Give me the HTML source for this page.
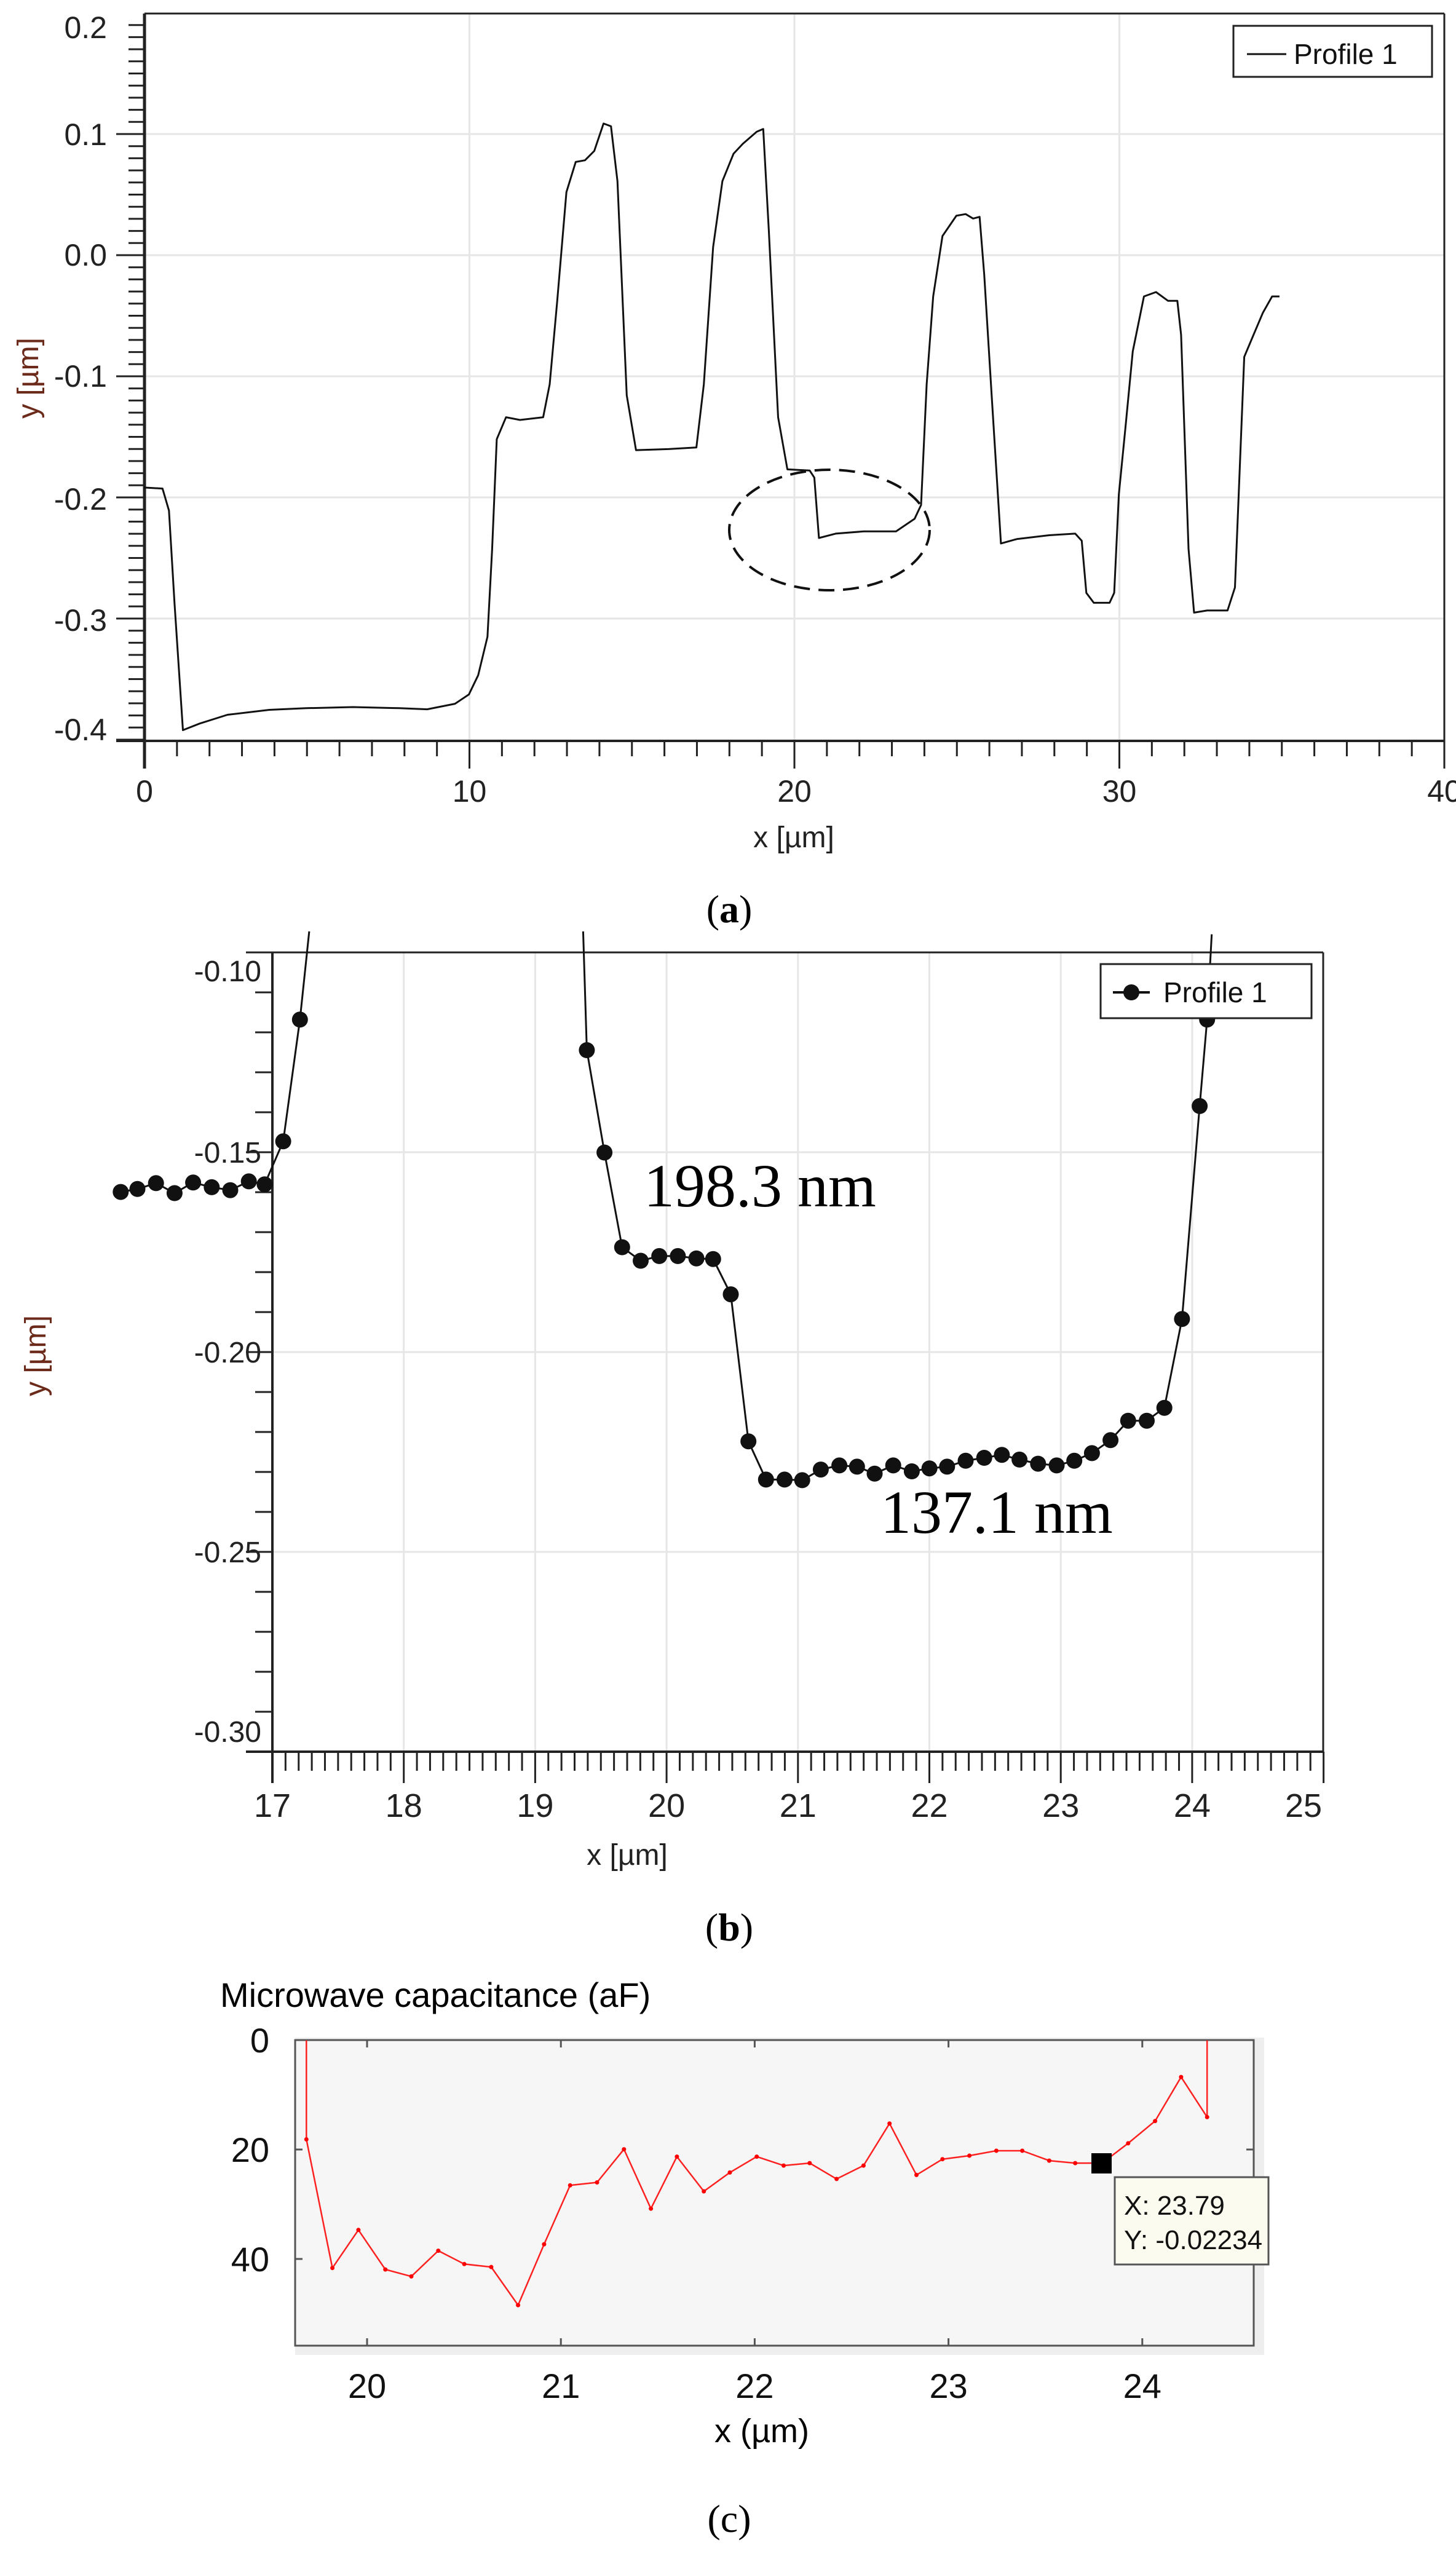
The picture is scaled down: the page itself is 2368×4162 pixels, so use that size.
<!DOCTYPE html>
<html><head><meta charset="utf-8">
<style>
html,body{margin:0;padding:0;background:#fff;}
svg{display:block;}
text{font-family:"Liberation Sans",sans-serif;}
.serif{font-family:"Liberation Serif",serif;}
</style></head>
<body>
<svg id="s" width="2368" height="4162" viewBox="0 0 2368 4162" xmlns="http://www.w3.org/2000/svg">
<rect width="2368" height="4162" fill="#fff"/>
<g id="g"></g>
<!-- static texts -->
<text x="1186" y="1500" font-size="64" text-anchor="middle" class="serif">(<tspan font-weight="bold">a</tspan>)</text>
<text x="1291" y="1378" font-size="48" text-anchor="middle" fill="#222">x [µm]</text>
<text transform="translate(62,615) rotate(-90)" font-size="48" text-anchor="middle" fill="#6b2a1a">y [µm]</text>
<text x="1020" y="3033" font-size="48" text-anchor="middle" fill="#222">x [µm]</text>
<text transform="translate(74,2205) rotate(-90)" font-size="48" text-anchor="middle" fill="#6b2a1a">y [µm]</text>
<text x="1186" y="3156" font-size="64" text-anchor="middle" class="serif">(<tspan font-weight="bold">b</tspan>)</text>
<text x="1047" y="1962" font-size="100" class="serif">198.3 nm</text>
<text x="1432" y="2493" font-size="100" class="serif">137.1 nm</text>
<text x="358" y="3264" font-size="56">Microwave capacitance  (aF)</text>
<text x="1239" y="3972" font-size="54" text-anchor="middle">x  (µm)</text>
<text x="1186" y="4118" font-size="64" text-anchor="middle" class="serif">(c)</text>
</svg>
<script>
var g=document.getElementById('g');var h='';
function L(x1,y1,x2,y2,c,w){h+='<line x1="'+x1+'" y1="'+y1+'" x2="'+x2+'" y2="'+y2+'" stroke="'+c+'" stroke-width="'+w+'"/>';}
function T(x,y,s,fs,anc,col){h+='<text x="'+x+'" y="'+y+'" font-size="'+fs+'" text-anchor="'+anc+'" fill="'+(col||'#111')+'">'+s+'</text>';}
function P(pts,c,w){h+='<polyline fill="none" stroke="'+c+'" stroke-width="'+w+'" stroke-linejoin="round" points="'+pts.map(function(p){return p[0].toFixed(1)+','+p[1].toFixed(1)}).join(' ')+'"/>';}
// ===== Panel A =====
var ax0=235,ax1=2349,ay0=22,ay1=1205;
function aY(v){return 415-v*1970;}
function aX(v){return 235+v*52.85;}
[0.1,0,-0.1,-0.2,-0.3].forEach(function(v){L(ax0,aY(v),ax1,aY(v),'#e6e6e6',3);});
[10,20,30].forEach(function(v){L(aX(v),ay0,aX(v),ay1,'#e6e6e6',3);});
L(ax0,ay0,ax1,ay0,'#222',3);L(ax1,ay0,ax1,ay1,'#222',3);
L(189,ay1,ax1,ay1,'#222',4);L(ax0,ay0,ax0,1250,'#222',5);
for(var i=-40;i<=20;i++){var y=aY(i/100);if(y<ay0||y>ay1)continue;if(i%10==0){L(189,y,ax0,y,'#222',3);}else L(209,y,ax0,y,'#222',3);}
for(var i=1;i<=40;i++){var x=aX(i);if(i%10==0)L(x,ay1,x,1250,'#222',3);else L(x,ay1,x,1230,'#222',3);}
[0.2,0.1,0,-0.1,-0.2,-0.3,-0.4].forEach(function(v,k){var lab=v.toFixed(1);var yy=[45,219,415,612,812,1009,1187][k];T(174,yy+17,lab,50,'end','#222');});
[0,10,20,30,40].forEach(function(v){T(aX(v),1304,v,50,'middle','#222');});
var A=[[155,888],[175,890],[182,930],[188,1100],[197,1330],[215,1318],[245,1302],[290,1293],[330,1290],[380,1288],[430,1290],[460,1292],[490,1282],[505,1265],[515,1230],[525,1160],[530,1000],[535,800],[545,760],[560,765],[585,760],[592,700],[600,550],[610,350],[620,295],[630,292],[640,275],[650,225],[658,230],[665,330],[675,720],[685,820],[720,818],[750,815],[758,700],[768,450],[778,330],[790,280],[800,262],[815,240],[822,235],[828,420],[838,760],[848,855],[872,857],[877,870],[882,980],[900,972],[930,968],[965,968],[985,945],[992,920],[998,700],[1005,540],[1015,430],[1030,393],[1040,390],[1048,398],[1055,395],[1060,500],[1068,720],[1078,990],[1095,982],[1130,975],[1158,972],[1165,985],[1170,1080],[1178,1098],[1195,1098],[1200,1080],[1205,900],[1212,780],[1220,640],[1232,540],[1245,532],[1258,548],[1268,548],[1272,610],[1280,1000],[1286,1116],[1300,1112],[1322,1112],[1330,1070],[1340,650],[1350,610],[1360,570],[1370,540],[1378,540]];
P(A.map(function(p){return [p[0]/0.6622,p[1]/1.12];}),'#111',3);
h+='<ellipse cx="1349" cy="862" rx="163" ry="98" fill="none" stroke="#111" stroke-width="4" stroke-dasharray="26,14"/>';
h+='<rect x="2006" y="42" width="323" height="83" fill="#fff" stroke="#222" stroke-width="3"/>';
L(2028,88,2092,88,'#111',3);T(2104,104,'Profile 1',46,'start','#111');
// ===== Panel B =====
var bx0=443,bx1=2152,by0=1549,by1=2849;
function bX(v){return 443+(v-17)*213.7;}
function bY(v){return 1549+(-0.10-v)*6500;}
[-0.15,-0.2,-0.25].forEach(function(v){L(bx0,bY(v),bx1,bY(v),'#e6e6e6',3);});
for(var i=18;i<=24;i++)L(bX(i),by0,bX(i),by1,'#e6e6e6',3);
L(bx0,by0,bx1,by0,'#222',3);L(bx1,by0,bx1,by1,'#222',3);
L(400,by1,bx1,by1,'#222',4);L(bx0,by0,bx0,2900,'#222',4);
for(var i=10;i<=30;i++){var y=bY(-i/100);if(i%5==0)L(400,y,bx0,y,'#222',3);else L(415,y,bx0,y,'#222',3);}
for(var i=1;i<=80;i++){var x=bX(17+i/10);if(i%10==0)L(x,by1,x,2900,'#222',3);else L(x,by1,x,2880,'#222',3);}
[['-0.10',1579],['-0.15',1874],['-0.20',2199],['-0.25',2524],['-0.30',2816]].forEach(function(a){T(425,a[1]+17,a[0],48,'end','#222');});
for(var i=17;i<=25;i++)T(i==25?2120:bX(i),2955,i,54,'middle','#222');
var B1=[[130,563],[148,558],[168,548],[188,565],[208,547],[228,555],[248,560],[268,545],[285,550],[305,477],[323,270],[333,120]];
var B2=[[628,120],[632,322],[651,496],[670,657],[690,680],[710,672],[730,672],[750,676],[768,677],[787,737],[806,987],[825,1052],[845,1052],[864,1053],[884,1035],[904,1028],[923,1030],[942,1042],[962,1028],[982,1038],[1001,1033],[1020,1030],[1040,1020],[1060,1015],[1079,1010],[1098,1018],[1118,1025],[1138,1028],[1157,1020],[1176,1007],[1196,985],[1215,952],[1235,952],[1254,930],[1273,779],[1292,417],[1300,270],[1305,125]];
function cb(p){return [p[0]/0.6622,1400+p[1]/1.0453];}
var b1=B1.map(cb),b2=B2.map(cb);
P(b1,'#111',3);P(b2,'#111',3);
b1.concat(b2).forEach(function(p){if(p[1]>1560)h+='<circle cx="'+p[0].toFixed(1)+'" cy="'+p[1].toFixed(1)+'" r="13" fill="#111"/>';});
h+='<rect x="1790" y="1568" width="343" height="88" fill="#fff" stroke="#222" stroke-width="3"/>';
L(1810,1614,1870,1614,'#111',4);h+='<circle cx="1840" cy="1614" r="13" fill="#111"/>';
T(1892,1630,'Profile 1',46,'start','#111');
// ===== Panel C =====
var cx0=480,cx1=2039,cy0=3318,cy1=3815;
h+='<rect x="480" y="3314" width="1576" height="516" fill="#eeeeee"/>';
h+='<rect x="'+cx0+'" y="'+cy0+'" width="'+(cx1-cx0)+'" height="'+(cy1-cy0)+'" fill="#f6f6f6" stroke="#555" stroke-width="3"/>';
function cX(v){return 597+(v-20)*315.2;}
function cY(v){return 3318+v*8.9;}
[20,21,22,23,24].forEach(function(v){L(cX(v),cy0,cX(v),cy0+12,'#555',3);L(cX(v),cy1,cX(v),cy1-12,'#555',3);T(cX(v),3900,v,56,'middle','#111');});
[0,20,40].forEach(function(v){L(cx0,cY(v),cx0+12,cY(v),'#555',3);L(cx1,cY(v),cx1-12,cY(v),'#555',3);T(438,cY(v)+20,v,56,'end','#111');});
var C=[[330,520],[330,720],[358,980],[386,903],[415,983],[443,997],[472,945],[500,972],[529,978],[558,1055],[586,932],[614,813],[643,807],[672,740],[701,860],[729,755],[758,825],[786,787],[815,755],[844,773],[872,768],[901,800],[930,773],[958,688],[987,792],[1015,760],[1044,753],[1073,743],[1101,743],[1130,763],[1158,768],[1187,768],[1215,728],[1244,683],[1272,594],[1300,675],[1300,520]];
var c=C.map(function(p){return [p[0]/0.6622,2900+p[1]/1.2425];});
P(c,'#ff2020',2.5);
c.slice(1,-1).forEach(function(p){h+='<circle cx="'+p[0].toFixed(1)+'" cy="'+p[1].toFixed(1)+'" r="3.5" fill="#ff0000"/>';});
h+='<rect x="1775" y="3502" width="33" height="33" fill="#000"/>';
h+='<rect x="1813" y="3541" width="250" height="142" fill="#fbfbef" stroke="#555" stroke-width="3"/>';
T(1828,3602,'X: 23.79',44,'start','#111');T(1828,3658,'Y: -0.02234',44,'start','#111');
g.innerHTML=h;
</script>
</body></html>
